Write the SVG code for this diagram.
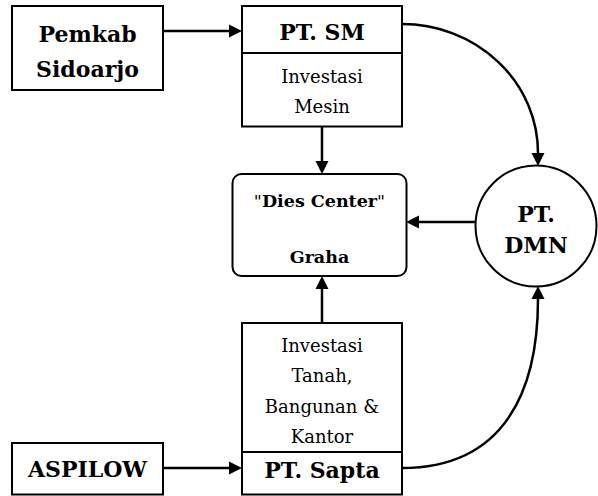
<svg xmlns="http://www.w3.org/2000/svg" width="598" height="496" viewBox="0 0 598 496">
<style>
.box{fill:#fff;stroke:#000;stroke-width:2}
.b{font-family:"DejaVu Serif","Liberation Serif",serif;font-weight:bold;font-size:22px;text-anchor:middle;fill:#000}
.r{font-family:"DejaVu Serif","Liberation Serif",serif;font-size:18px;text-anchor:middle;fill:#000}
.m{font-family:"DejaVu Serif","Liberation Serif",serif;font-weight:bold;font-size:17.5px;text-anchor:middle;fill:#000}
.c{fill:none;stroke:#000;stroke-width:2.5;marker-end:url(#ah)}
</style>
<defs>
<marker id="ah" markerUnits="userSpaceOnUse" markerWidth="14" markerHeight="14" refX="0" refY="6.5" orient="auto" viewBox="0 0 14 13">
<path d="M0,0 L13,6.5 L0,13 z" fill="#000"/>
</marker>
</defs>
<rect width="598" height="496" fill="#fff"/>
<g id="connectors">
<path class="c" d="M163,31 L229,31"/>
<path class="c" d="M322,127 L322,161"/>
<path class="c" d="M476,222 L419,222"/>
<path class="c" d="M322,323 L322,289"/>
<path class="c" d="M163,468 L229,468"/>
<path class="c" d="M402,24 A136,129 0 0 1 538,153"/>
<path class="c" d="M402,468 C505,468 538,390 538,299"/>
</g>
<g id="pemkab">
<rect class="box" x="12" y="6" width="151" height="84"/>
<text class="b" x="87.5" y="42">Pemkab</text>
<text class="b" x="87.5" y="77">Sidoarjo</text>
</g>
<g id="ptsm">
<rect class="box" x="242" y="6" width="160" height="47"/>
<text class="b" x="322" y="40">PT. SM</text>
</g>
<g id="investasi-mesin">
<rect class="box" x="242" y="53" width="160" height="73.5"/>
<text class="r" x="322" y="83">Investasi</text>
<text class="r" x="322" y="113">Mesin</text>
</g>
<g id="dies-center">
<rect class="box" x="232.5" y="174" width="174" height="102" rx="9"/>
<text class="m" x="319.5" y="207"><tspan font-weight="normal">"</tspan>Dies Center<tspan font-weight="normal">"</tspan></text>
<text class="m" x="319.5" y="263">Graha</text>
</g>
<g id="ptdmn">
<circle class="box" cx="536" cy="226" r="60.5"/>
<text class="b" x="536" y="222">PT.</text>
<text class="b" x="536" y="253">DMN</text>
</g>
<g id="investasi-tanah">
<rect class="box" x="242" y="323" width="160" height="129"/>
<text class="r" x="322" y="352">Investasi</text>
<text class="r" x="322" y="382">Tanah,</text>
<text class="r" x="322" y="413">Bangunan &amp;</text>
<text class="r" x="322" y="443">Kantor</text>
</g>
<g id="ptsapta">
<rect class="box" x="242" y="452" width="160" height="42.5"/>
<text class="b" x="322" y="478">PT. Sapta</text>
</g>
<g id="aspilow">
<rect class="box" x="12" y="443" width="151" height="51.5"/>
<text class="b" x="87.5" y="477">ASPILOW</text>
</g>
</svg>
